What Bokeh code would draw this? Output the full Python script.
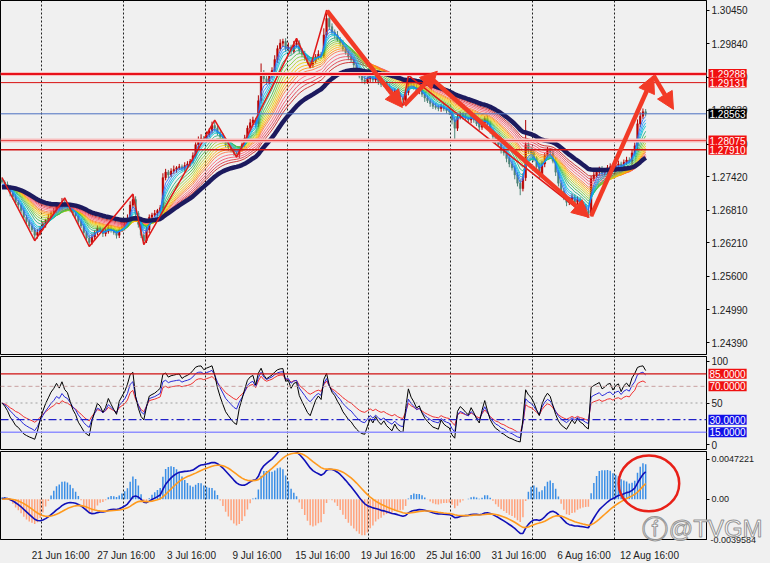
import numpy as np
from bokeh.plotting import figure
from bokeh.layouts import column
from bokeh.models import (Range1d, FixedTicker, PrintfTickFormatter, Span, Label,
                          Arrow, NormalHead)
from bokeh.embed import file_html
from bokeh.resources import INLINE

# ---------------- data (4H bars, prices in pips above 1.0000) ----------------
first_open_pips = 2736
close_pips = [
    2732, 2728, 2722, 2712, 2705, 2695, 2690, 2680, 2668, 2660,
    2652, 2645, 2635, 2640, 2648, 2655, 2662, 2668, 2675, 2680,
    2688, 2685, 2695, 2690, 2688, 2682, 2675, 2670, 2660, 2652,
    2640, 2630, 2622, 2632, 2640, 2648, 2645, 2638, 2642, 2650,
    2645, 2640, 2635, 2645, 2650, 2655, 2665, 2690, 2700, 2675,
    2655, 2635, 2625, 2645, 2668, 2672, 2675, 2680, 2685, 2740,
    2750, 2745, 2752, 2755, 2758, 2760, 2757, 2762, 2765, 2770,
    2780, 2800, 2810, 2812, 2810, 2818, 2825, 2835, 2830, 2822,
    2815, 2808, 2800, 2795, 2790, 2785, 2782, 2792, 2800, 2812,
    2830, 2840, 2845, 2838, 2880, 2930, 2920, 2915, 2925, 2935,
    2955, 2975, 2985, 2988, 2975, 2978, 2970, 2982, 2985, 2972,
    2965, 2958, 2950, 2945, 2952, 2960, 2965, 2962, 3000, 3030,
    3015, 3005, 3000, 2992, 2985, 2975, 2968, 2960, 2955, 2945,
    2935, 2925, 2918, 2915, 2920, 2925, 2918, 2922, 2915, 2910,
    2912, 2905, 2900, 2895, 2898, 2890, 2885, 2882, 2895, 2918,
    2910, 2905, 2898, 2900, 2892, 2885, 2880, 2875, 2870, 2868,
    2866, 2870, 2865, 2862, 2860, 2845, 2830, 2850, 2855, 2852,
    2848, 2845, 2850, 2845, 2838, 2832, 2840, 2848, 2838, 2825,
    2815, 2805, 2800, 2790, 2785, 2775, 2765, 2758, 2745, 2730,
    2720, 2740, 2800, 2790, 2785, 2775, 2760, 2745, 2765, 2780,
    2790, 2785, 2770, 2750, 2730, 2715, 2705, 2695, 2700, 2705,
    2695, 2700, 2692, 2688, 2680, 2675, 2738, 2745, 2750, 2755,
    2748, 2752, 2758, 2760, 2755, 2762, 2765, 2760, 2768, 2772,
    2770, 2785, 2798, 2838, 2852, 2860, 2856]
up_wick_pips = [
    4, 3, 5, 4, 3, 5, 4, 3, 6, 4, 3, 5, 4, 6, 4, 5, 3, 6, 4, 5,
    6, 4, 8, 5, 4, 3, 5, 4, 3, 5, 4, 3, 5, 6, 4, 5, 3, 4, 6, 5,
    4, 3, 5, 4, 6, 5, 8, 7, 10, 6, 4, 5, 3, 6, 5, 4, 6, 3, 5, 8,
    6, 4, 5, 7, 3, 5, 4, 6, 5, 4, 6, 8, 5, 7, 4, 6, 5, 7, 10, 5,
    4, 6, 3, 5, 4, 6, 3, 5, 4, 6, 5, 7, 6, 4, 10, 18, 6, 5, 7, 6,
    8, 6, 7, 5, 6, 8, 4, 7, 9, 5, 4, 6, 5, 3, 6, 5, 7, 4, 12, 15,
    8, 6, 5, 7, 4, 6, 5, 4, 6, 5, 4, 6, 5, 7, 4, 6, 5, 4, 6, 5,
    5, 4, 6, 3, 5, 4, 6, 3, 7, 8, 6, 4, 5, 3, 6, 4, 5, 3, 4, 6,
    5, 4, 6, 3, 5, 4, 6, 8, 5, 4, 6, 3, 5, 4, 6, 5, 7, 4, 5, 6,
    4, 6, 5, 3, 6, 4, 5, 6, 4, 5, 6, 8, 45, 10, 6, 5, 4, 7, 6, 5,
    6, 4, 5, 7, 4, 5, 6, 4, 5, 6, 5, 6, 4, 5, 4, 6, 5, 8, 6, 5,
    6, 4, 5, 6, 4, 5, 6, 4, 5, 6, 5, 7, 6, 8, 7, 6, 5]
dn_wick_pips = [
    3, 5, 4, 6, 5, 4, 6, 5, 4, 6, 5, 4, 10, 6, 5, 4, 6, 3, 5, 4,
    5, 6, 4, 5, 6, 5, 4, 6, 5, 4, 6, 5, 8, 4, 6, 5, 4, 6, 5, 4,
    5, 4, 6, 5, 4, 6, 5, 4, 6, 8, 6, 5, 7, 4, 6, 5, 4, 6, 5, 4,
    5, 6, 4, 5, 6, 4, 5, 6, 4, 5, 4, 5, 6, 4, 5, 6, 4, 5, 6, 5,
    6, 4, 5, 6, 4, 5, 5, 6, 4, 5, 4, 6, 5, 7, 6, 5, 8, 6, 5, 4,
    5, 6, 4, 7, 6, 5, 6, 4, 5, 6, 6, 5, 4, 6, 5, 4, 5, 6, 4, 5,
    6, 5, 7, 4, 6, 5, 4, 6, 5, 6, 5, 4, 6, 5, 4, 6, 5, 4, 6, 5,
    4, 6, 5, 4, 6, 5, 4, 11, 6, 5, 6, 5, 4, 6, 5, 7, 4, 6, 5, 4,
    5, 6, 4, 5, 6, 8, 21, 5, 4, 6, 5, 4, 6, 5, 4, 6, 5, 4, 6, 5,
    6, 5, 4, 6, 5, 7, 6, 5, 8, 6, 12, 5, 6, 7, 5, 6, 8, 7, 5, 6,
    5, 6, 4, 7, 6, 5, 6, 7, 5, 4, 6, 5, 7, 6, 5, 8, 6, 5, 4, 6,
    5, 4, 6, 5, 4, 6, 5, 4, 6, 5, 4, 6, 5, 7, 6, 5, 4]

date_labels = ["21 Jun 16:00", "27 Jun 16:00", "3 Jul 16:00", "9 Jul 16:00",
               "15 Jul 16:00", "19 Jul 16:00", "25 Jul 16:00", "31 Jul 16:00",
               "6 Aug 16:00", "12 Aug 16:00"]
date_label_bars = [12, 36, 60, 84, 108, 132, 156, 180, 204, 228]
week_sep_bars = [14.5, 44.5, 74.5, 104.5, 134.5, 164.5, 194.5, 224.5]

price_ticks = [1.30450, 1.29840, 1.29230, 1.28630, 1.28010, 1.27420,
               1.26810, 1.26210, 1.25600, 1.24990, 1.24390]
red_levels = [1.29288, 1.29131, 1.28075, 1.27910]
red_level_widths = [2, 1, 1, 1.5]
red_level_colors = ["#e8101a", "#d81010", "#e84040", "#d01010"]
red_level_halo = [True, False, True, False]
current_price = 1.28563

zigzag_bars = [0, 12, 23, 32, 48, 52, 78, 86, 108, 113, 119, 147, 149, 215]
zigzag_prices = [1.27403, 1.26251, 1.27030, 1.26145, 1.27101, 1.26180, 1.28448,
                 1.27775, 1.29936, 1.29405, 1.30450, 1.28714, 1.29263, 1.26676]
arrow_x0 = [119.2, 147.5, 157.2, 216.0, 238.9]
arrow_y0 = [1.30440, 1.28720, 1.29215, 1.26700, 1.29260]
arrow_x1 = [146.8, 159.6, 215.3, 238.9, 246.2]
arrow_y1 = [1.28678, 1.29339, 1.26676, 1.29260, 1.28643]

ma_seed = 1.2722
ribbon_periods = [3, 4, 5, 6, 8, 10, 12, 14, 16, 18, 20, 22, 25, 28, 31, 34]
ribbon_colors = ["#1e6cff", "#1e90ff", "#00b0f0", "#00c8c8", "#20b080", "#40c040",
                 "#80cc30", "#b8d020", "#e8d000", "#ffb000", "#ff9000", "#ff7040",
                 "#ff6070", "#f04860", "#e03040", "#c81818"]
slow_period = 42

rsi_periods = [6, 10, 16]
rsi_colors = ["#000000", "#2828d8", "#f03030"]
rsi_seed = 0.0006
osc_levels = [85, 70, 50, 30, 15]

macd_fast, macd_slow, macd_signal = 12, 26, 9
hist_scale = 3.0
macd_top_label, macd_bottom_label = 0.0047221, -0.0039584

ellipse_center = (237.2, 0.00157)
ellipse_size = (22.2, 0.0055)

# ---------------- derived series ----------------
close = 1.0 + np.array(close_pips) / 10000.0
open_ = np.r_[1.0 + first_open_pips / 10000.0, close[:-1]]
high = np.maximum(open_, close) + np.array(up_wick_pips) / 10000.0
low = np.minimum(open_, close) - np.array(dn_wick_pips) / 10000.0
xb = np.arange(len(close))


def ema(src, n, seed):
    a = 2.0 / (n + 1.0)
    out, v = [], seed
    for s in src:
        v = v + a * (s - v)
        out.append(v)
    return np.array(out)


def rsi(src, n, seed):
    ag, al = seed, seed
    out = []
    prev = src[0]
    for s in src:
        d = s - prev
        prev = s
        ag = (ag * (n - 1) + max(d, 0)) / n
        al = (al * (n - 1) + max(-d, 0)) / n
        out.append(100.0 * ag / (ag + al))
    return np.array(out)


macd_line = ema(close, macd_fast, ma_seed) - ema(close, macd_slow, ma_seed)
signal_line = ema(macd_line, macd_signal, 0.0)
hist = hist_scale * (macd_line - signal_line)

# ---------------- layout constants ----------------
BG = "#f0f0f0"
FW = 706
RB = 48
FONT = "Liberation Sans"
XR = Range1d(-0.54, 258.3)
X_END = 258.3


def make_fig(fh, y0, y1, top, bottom, xaxis=False):
    f = figure(frame_width=FW, frame_height=fh, x_range=XR, y_range=Range1d(y0, y1),
               output_backend="svg", toolbar_location=None, y_axis_location="right",
               x_axis_location="below" if xaxis else None,
               min_border_left=0, min_border_right=RB, min_border_top=top,
               min_border_bottom=bottom, background_fill_color=BG, border_fill_color=BG,
               outline_line_color="#000000", outline_line_width=1)
    f.xgrid.ticker = FixedTicker(ticks=week_sep_bars)
    f.xgrid.grid_line_color = "#202020"
    f.xgrid.grid_line_dash = "2 2"
    f.xgrid.grid_line_width = 1
    f.ygrid.visible = False
    ax = f.yaxis[0]
    ax.axis_line_color = "#000000"
    ax.major_tick_line_color = "#000000"
    ax.major_tick_out = 3
    ax.major_tick_in = 0
    ax.minor_tick_line_color = None
    ax.major_label_standoff = 2
    ax.major_label_text_font = FONT
    ax.major_label_text_font_size = "10px"
    ax.major_label_text_color = "#202020"
    return f


def side_label(f, x, y, text, **kw):
    # placed in the right side panel so that it is not clipped by the frame
    f.add_layout(Label(x=x, y=y, text=text, text_font=FONT, text_baseline="middle",
                       **kw), "right")


def tag(f, y, text, bg, size="10px"):
    side_label(f, X_END, y, text, x_offset=2, text_font_size=size, text_color="white",
               text_align="left", background_fill_color=bg, padding=1)


# ---------------- main price panel ----------------
p1 = make_fig(354, 1.24178, 1.30627, 0, 1)
p1.yaxis.ticker = FixedTicker(ticks=price_ticks)
p1.yaxis.formatter = PrintfTickFormatter(format="%.5f")

up = close >= open_
dn = ~up
p1.segment(xb[up], high[up], xb[up], low[up], color="#b00000", line_width=1)
p1.segment(xb[dn], high[dn], xb[dn], low[dn], color="#4f8478", line_width=1)
p1.vbar(x=xb[up], top=close[up], bottom=open_[up], width=0.6,
        fill_color="#c00000", line_color="#b00000", line_width=0.5)
p1.vbar(x=xb[dn], top=open_[dn], bottom=close[dn], width=0.6,
        fill_color="#4f8478", line_color="#4f8478", line_width=0.5)

for per, col in reversed(list(zip(ribbon_periods, ribbon_colors))):
    p1.line(xb, ema(close, per, ma_seed), line_color=col, line_width=1, line_alpha=0.85)
p1.line(xb, ema(close, slow_period, ma_seed), line_color="#1c1a5e", line_width=4.5)

for lvl, w, c, halo in zip(red_levels, red_level_widths, red_level_colors, red_level_halo):
    if halo:
        p1.add_layout(Span(location=lvl, dimension="width", line_color="#f8c0c0",
                           line_width=4))
    p1.add_layout(Span(location=lvl, dimension="width", line_color=c, line_width=w))
p1.add_layout(Span(location=current_price, dimension="width", line_color="#4a6fc0",
                   line_width=1))

p1.line(zigzag_bars, zigzag_prices, line_color="#e01818", line_width=1.5)
for xa0, ya0, xe, ye in zip(arrow_x0, arrow_y0, arrow_x1, arrow_y1):
    p1.add_layout(Arrow(x_start=xa0, y_start=ya0, x_end=xe, y_end=ye,
                        line_color="#f23a26", line_width=4.5,
                        end=NormalHead(size=17, fill_color="#f23a26",
                                       line_color="#f23a26", line_width=1)))

for lvl in red_levels:
    tag(p1, lvl, "%.5f" % lvl, "#f01010")
tag(p1, current_price, "%.5f" % current_price, "#000000")

# ---------------- oscillator panel ----------------
p2 = make_fig(93, -5.8, 105.8, 1, 1)
p2.yaxis.ticker = FixedTicker(ticks=[0, 50, 100])
p2.yaxis.major_label_overrides = {0: "0", 50: "50", 100: "100"}
lvl_styles = [("#d01010", "solid", 1.2), ("#c8a0a0", "4 3", 1), ("#a0a0a0", "2 3", 1),
              ("#2020c8", "8 3 2 3", 1.2), ("#9090ff", "solid", 1.5)]
for lv, (c, d, w) in zip(osc_levels, lvl_styles):
    p2.add_layout(Span(location=lv, dimension="width", line_color=c, line_dash=d,
                       line_width=w))
for per, col in reversed(list(zip(rsi_periods, rsi_colors))):
    p2.line(xb, rsi(close, per, rsi_seed), line_color=col, line_width=1)
tag(p2, 85, "85.0000", "#f01010")
tag(p2, 70, "70.0000", "#f01010")
tag(p2, 30, "30.0000", "#1010e8")
tag(p2, 15, "15.0000", "#1010e8")

# ---------------- MACD panel ----------------
p3 = make_fig(88, macd_bottom_label, macd_top_label, 1, 20, xaxis=True)
top_tick = macd_top_label - 8.0 / 91.0 * (macd_top_label - macd_bottom_label)
p3.yaxis.ticker = FixedTicker(ticks=[top_tick, 0.0])
p3.yaxis.major_label_overrides = {top_tick: "%.7f" % macd_top_label, 0.0: "0.00"}
p3.yaxis.major_label_text_font_size = "9px"
pos = hist >= 0
p3.vbar(x=xb[pos], top=hist[pos], bottom=0, width=0.55, fill_color="#3a8ee6",
        line_color=None)
p3.vbar(x=xb[~pos], top=0, bottom=hist[~pos], width=0.55, fill_color="#ffa27c",
        line_color=None)
p3.line(xb, macd_line, line_color="#1010b8", line_width=1.6)
p3.line(xb, signal_line, line_color="#ff9a1e", line_width=1.6)
p3.ellipse(x=[ellipse_center[0]], y=[ellipse_center[1]], width=ellipse_size[0],
           height=ellipse_size[1], fill_alpha=0, line_color="#e82018", line_width=2.5)
side_label(p3, X_END, macd_bottom_label, "%.7f" % macd_bottom_label, x_offset=4,
           text_font_size="9px", text_color="#202020")
side_label(p3, 239.5, -0.0029, "\u24d5", text_font_size="26px", text_color="white",
           text_alpha=0.9, text_align="center", text_outline_color="#8a8a8a")
side_label(p3, 244.5, -0.0029, "@TVGM", text_font_size="24px", text_color="white",
           text_alpha=0.9, text_outline_color="#8a8a8a")

# date labels start at their bar (MT4 style): label centre is shifted right
label_pos = [b + 9.5 for b in date_label_bars]
xa = p3.xaxis[0]
xa.ticker = FixedTicker(ticks=label_pos)
xa.major_label_overrides = {b: s for b, s in zip(label_pos, date_labels)}
xa.axis_line_color = "#000000"
xa.major_tick_line_color = None
xa.minor_tick_line_color = None
xa.major_label_standoff = 4
xa.major_label_text_font = FONT
xa.major_label_text_font_size = "10px"
xa.major_label_text_color = "#202020"

layout = column(p1, p2, p3, spacing=0, background=BG)
open("out.html", "w").write(file_html(layout, INLINE))
